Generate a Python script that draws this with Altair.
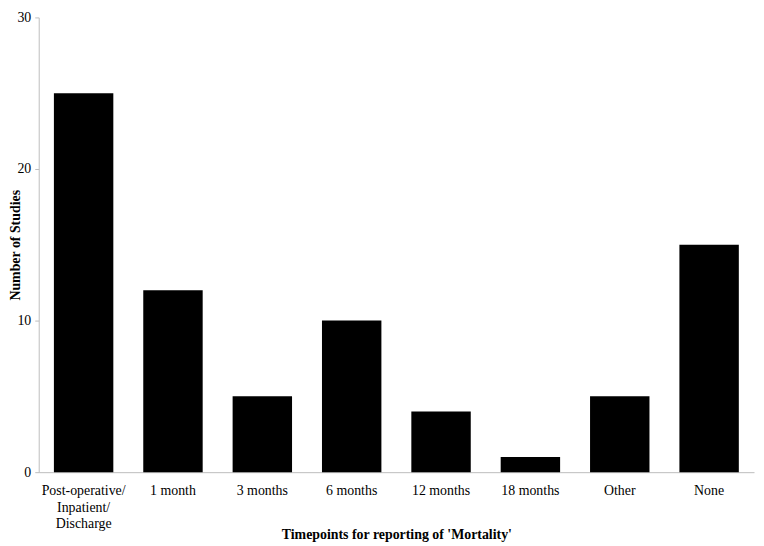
import altair as alt
import pandas as pd

categories = ["Post-operative/Inpatient/Discharge", "1 month", "3 months", "6 months",
              "12 months", "18 months", "Other", "None"]
values = [25, 12, 5, 10, 4, 1, 5, 15]

df = pd.DataFrame({"cat": categories, "n": values})
FONT = "Liberation Serif"

chart = alt.Chart(df).mark_bar(color="black").encode(
    x=alt.X("cat:N", sort=categories, title="Timepoints for reporting of 'Mortality'",
            scale=alt.Scale(paddingInner=0.335, paddingOuter=0.17),
            axis=alt.Axis(labelAngle=0, ticks=False, domainColor="#bdbdbd",
                          labelFont=FONT, labelFontSize=14, labelColor="black",
                          labelPadding=12, labelLineHeight=16.5,
                          labelExpr="split(replace(datum.label, 'Post-operative/Inpatient/', 'Post-operative/|Inpatient/|'), '|')",
                          titleFont=FONT, titleFontSize=14, titleFontWeight="bold",
                          titleColor="black", titleY=63, titleBaseline="middle")),
    y=alt.Y("n:Q", title="Number of Studies",
            scale=alt.Scale(domain=[0, 30], nice=False),
            axis=alt.Axis(values=[0, 10, 20, 30], grid=False, domainColor="#bdbdbd",
                          tickColor="#bdbdbd", tickSize=4, labelPadding=4,
                          labelFont=FONT, labelFontSize=14, labelColor="black",
                          titleFont=FONT, titleFontSize=14, titleFontWeight="bold",
                          titleColor="black", titleX=-30, titleBaseline="top")),
).properties(
    width=722, height=459,
    autosize=alt.AutoSizeParams(type="none"),
    padding={"left": 31, "top": 7, "right": 2, "bottom": 70},
).configure_view(stroke=None)

chart.save("out.html", embed_options={"renderer": "svg", "actions": False})
